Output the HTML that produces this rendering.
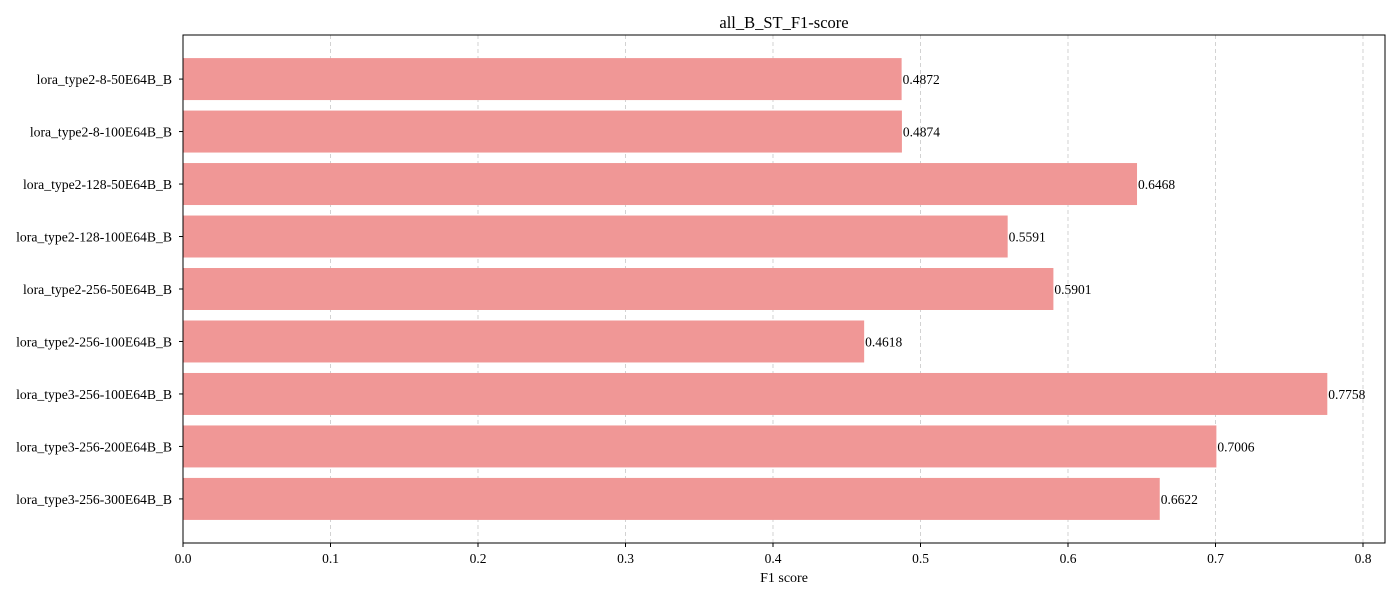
<!DOCTYPE html>
<html><head><meta charset="utf-8"><style>
html,body{margin:0;padding:0;background:#fff;}
svg text{font-family:"Liberation Serif","DejaVu Serif",serif;fill:#000;}
</style></head><body>
<svg id="chart" width="1400" height="600" xmlns="http://www.w3.org/2000/svg">
<text x="784" y="28" font-size="16.5" text-anchor="middle">all_B_ST_F1-score</text>
<g id="grid"></g><g id="bars"></g><g id="axes"></g>
<text x="784" y="582" font-size="14" text-anchor="middle">F1 score</text>
</svg>
<script>
const categories = ["lora_type2-8-50E64B_B","lora_type2-8-100E64B_B","lora_type2-128-50E64B_B","lora_type2-128-100E64B_B","lora_type2-256-50E64B_B","lora_type2-256-100E64B_B","lora_type3-256-100E64B_B","lora_type3-256-200E64B_B","lora_type3-256-300E64B_B"];
const values = [0.4872,0.4874,0.6468,0.5591,0.5901,0.4618,0.7758,0.7006,0.6622];
const ticks = [0,0.1,0.2,0.3,0.4,0.5,0.6,0.7,0.8];
const tickLabels = ["0.0","0.1","0.2","0.3","0.4","0.5","0.6","0.7","0.8"];
const L=183,R=1385,T=35,B=543;
const x=v=>L+v*1475;
const step=(B-T)/(categories.length-1+1.68);
const y=i=>T+step*0.84+i*step;
const NS="http://www.w3.org/2000/svg";
function mk(tag,attrs,parent,text){const e=document.createElementNS(NS,tag);for(const k in attrs)e.setAttribute(k,attrs[k]);if(text!==undefined)e.textContent=text;parent.appendChild(e);return e;}
const grid=document.getElementById('grid'),bars=document.getElementById('bars'),axes=document.getElementById('axes');
ticks.forEach((t,i)=>{
  const g=mk('line',{x1:x(t),x2:x(t),y1:T,y2:B,stroke:'#c8c8c8','stroke-dasharray':'4,3','stroke-width':0.8},grid);
  
  
  const tk=mk('line',{x1:x(t),x2:x(t),y1:B,y2:B+4,stroke:'#000'},axes);
  
  
  const tl=mk('text',{x:x(t),y:B+20,'font-size':13.5,'text-anchor':'middle'},axes,tickLabels[i]);
  
  
});
const h=step*0.8;
categories.forEach((c,i)=>{
  const r=mk('rect',{x:L,y:y(i)-h/2,width:x(values[i])-L,height:h,fill:'#f09796'},bars);
  
  
  const v=mk('text',{x:x(values[i])+1,y:y(i)+5,'font-size':13.5},bars,values[i].toFixed(4));
  
  
  const tk=mk('line',{x1:L-4,x2:L,y1:y(i),y2:y(i),stroke:'#000'},axes);
  
  
  const tl=mk('text',{x:L-11,y:y(i)+5,'font-size':13.7,'text-anchor':'end'},axes,c);
  
  
});
const fr=mk('rect',{x:L,y:T,width:R-L,height:B-T,fill:'none',stroke:'#000','stroke-width':1},axes);


</script>
</body></html>
